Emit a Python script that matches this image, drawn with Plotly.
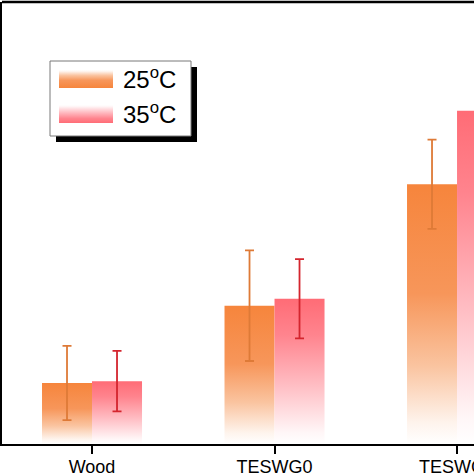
import plotly.graph_objects as go

# ---- data ----
categories = ["Wood", "TESWG0", "TESWG1"]
series_names = ["25<sup>o</sup>C", "35<sup>o</sup>C"]
values_25 = [0.97, 2.20, 4.13]
values_35 = [1.00, 2.31, 5.30]
err_25 = [0.59, 0.88, 0.71]
err_35 = [0.48, 0.63, 0.65]

# ---- styles ----
scale_25 = [[0.0, "rgb(255,255,255)"], [0.08, "rgb(254,244,237)"], [0.30, "rgb(250,196,160)"],
            [0.58, "rgb(247,150,90)"], [1.0, "rgb(246,133,60)"]]
scale_35 = [[0.0, "rgb(255,255,255)"], [0.08, "rgb(255,246,247)"], [0.40, "rgb(255,190,196)"],
            [0.75, "rgb(255,132,142)"], [1.0, "rgb(255,108,118)"]]
err_colors = ["rgb(222,122,55)", "rgb(212,37,46)"]
BAR_W = 0.274

fig = go.Figure()

series = [(values_25, err_25, scale_25), (values_35, err_35, scale_35)]
for si, (vals, errs, scale) in enumerate(series):
    offset = -BAR_W if si == 0 else 0.0
    for ci, v in enumerate(vals):
        x0 = ci + offset
        x1 = x0 + BAR_W
        fig.add_trace(go.Scatter(
            x=[x0, x1, x1, x0, x0], y=[0, 0, v, v, 0],
            fill="toself", mode="none",
            fillgradient=dict(type="vertical", colorscale=scale),
            hoverinfo="skip", showlegend=False,
        ))

for si, (vals, errs, scale) in enumerate(series):
    offset = -BAR_W if si == 0 else 0.0
    fig.add_trace(go.Scatter(
        x=[ci + offset + BAR_W / 2 for ci in range(len(vals))], y=vals,
        mode="markers", marker=dict(size=1, color="rgba(0,0,0,0)"),
        error_y=dict(type="data", array=errs, color=err_colors[si], thickness=1.8, width=4.5),
        showlegend=False, hoverinfo="skip",
    ))

# ---- custom legend (pixel overlay axes) ----
box = dict(x0=50, x1=191, y0=61, y1=136)
shadow = 6
shapes = [
    dict(type="rect", xref="x2", yref="y2", x0=box["x0"] + shadow, x1=box["x1"] + shadow,
         y0=box["y0"] + shadow, y1=box["y1"] + shadow, fillcolor="black", line=dict(width=0), layer="below"),
    dict(type="rect", xref="x2", yref="y2", x0=box["x0"], x1=box["x1"], y0=box["y0"], y1=box["y1"],
         fillcolor="white", line=dict(color="rgb(120,120,120)", width=1), layer="below"),
    # top frame line of the plot area
    dict(type="line", xref="paper", yref="paper", x0=0, x1=1, y0=1, y1=1,
         line=dict(color="black", width=2.5), layer="above"),
]
swatch_rows = [(70, 88), (105, 123)]
annotations = []
for si, (top, bot) in enumerate(swatch_rows):
    scale = series[si][2]
    rev = [[1 - s, c] for s, c in reversed(scale)]
    fig.add_trace(go.Scatter(
        x=[59, 113, 113, 59, 59], y=[bot, bot, top, top, bot], xaxis="x2", yaxis="y2",
        fill="toself", mode="none",
        fillgradient=dict(type="vertical", colorscale=rev),
        hoverinfo="skip", showlegend=False,
    ))
    annotations.append(dict(x=121, y=(top + bot) / 2 - 1, xref="x2", yref="y2", text=series_names[si],
                            showarrow=False, xanchor="left", yanchor="middle",
                            font=dict(family="Liberation Sans, Arial", size=24, color="black")))

fig.update_layout(
    width=474, height=474,
    margin=dict(l=2, r=0, t=2, b=30),
    plot_bgcolor="white", paper_bgcolor="white",
    showlegend=False,
    shapes=shapes, annotations=annotations,
    xaxis=dict(range=[-0.4932, 2.093], tickvals=list(range(len(categories))), ticktext=categories,
               showline=True, linecolor="black", linewidth=2, mirror=False,
               ticks="outside", ticklen=8, tickwidth=2, tickcolor="black",
               ticklabelstandoff=-3, ticklabeloverflow="allow",
               tickfont=dict(family="Liberation Sans, Arial", size=18, color="black"),
               showgrid=False, zeroline=False, automargin=False),
    yaxis=dict(range=[0, 7.03], showline=True, linecolor="black", linewidth=2,
               showticklabels=False, ticks="", showgrid=False, zeroline=False, automargin=False),
    xaxis2=dict(overlaying="x", anchor="y2", range=[2, 474], visible=False),
    yaxis2=dict(overlaying="y", anchor="x2", range=[444, 2], visible=False),
)

fig.write_html("out.html", config={"displayModeBar": False},
               post_script="document.body.style.margin='0';document.body.style.overflow='hidden';")
